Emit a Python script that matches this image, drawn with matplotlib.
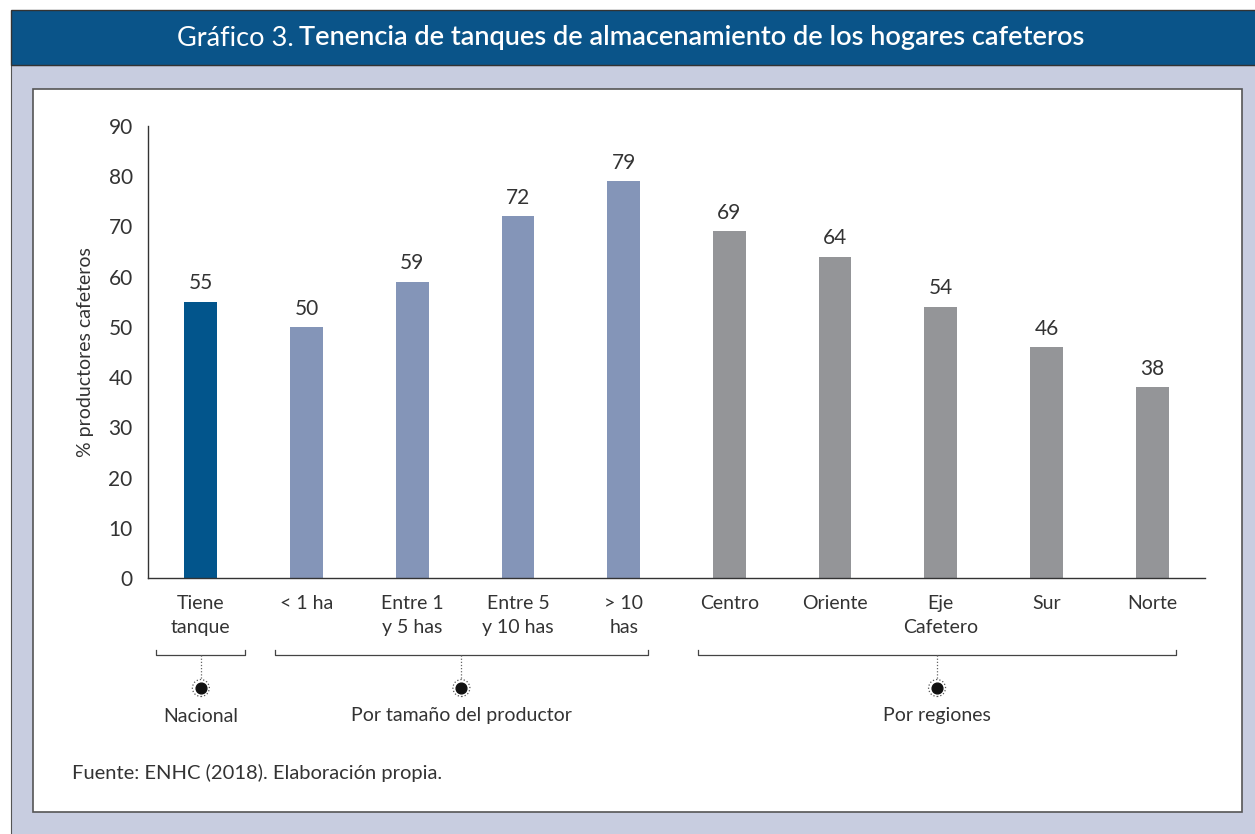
import matplotlib
matplotlib.use("Agg")
import matplotlib.pyplot as plt
from matplotlib.patches import Rectangle
import matplotlib.transforms as mtransforms

plt.rcParams['font.family'] = ['Lato', 'DejaVu Sans']

categories = ["Tiene\ntanque", "< 1 ha", "Entre 1\ny 5 has", "Entre 5\ny 10 has", "> 10\nhas",
              "Centro", "Oriente", "Eje\nCafetero", "Sur", "Norte"]
values = [55, 50, 59, 72, 79, 69, 64, 54, 46, 38]
groups = ["nac", "tam", "tam", "tam", "tam", "reg", "reg", "reg", "reg", "reg"]
group_names = {"nac": "Nacional", "tam": "Por tamaño del productor", "reg": "Por regiones"}
group_colors = {"nac": "#02558C", "tam": "#8495B8", "reg": "#949598"}
yticks = [0, 10, 20, 30, 40, 50, 60, 70, 80, 90]

W, H = 1255, 834
fig = plt.figure(figsize=(W / 100, H / 100), dpi=100)
fig.patch.set_facecolor("white")

def px_rect(x0, y0, x1, y1, **kw):
    r = Rectangle((x0 / W, 1 - y1 / H), (x1 - x0) / W, (y1 - y0) / H,
                  transform=fig.transFigure, zorder=-10, **kw)
    fig.patches.append(r)

# background frame
px_rect(11, 65, 1256, 835, facecolor="#C8CDE0", edgecolor="#555555", linewidth=0.8)
px_rect(11, 10, 1256, 65, facecolor="#0A5489", edgecolor="#333333", linewidth=1.0)
px_rect(33, 89, 1242, 812, facecolor="white", edgecolor="#555555", linewidth=1.2)

# title
fig.text(294 / W, 1 - 38 / H, "Gráfico 3.", ha="right", va="center", color="white",
         fontsize=19.5, fontweight="normal")
fig.text(299 / W, 1 - 38 / H, "Tenencia de tanques de almacenamiento de los hogares cafeteros",
         ha="left", va="center", color="white", fontsize=19.5, fontweight="semibold")

# axes
ax_left, ax_right, ax_top, ax_bottom = 148, 1205, 126, 578
ax = fig.add_axes([ax_left / W, 1 - ax_bottom / H, (ax_right - ax_left) / W, (ax_bottom - ax_top) / H])
ax.set_facecolor("none")
x = list(range(len(values)))
colors = [group_colors[g] for g in groups]
ax.bar(x, values, width=0.31, color=colors, zorder=2)
ax.set_xlim(-0.5, len(values) - 0.5)
ax.set_ylim(0, 90)
ax.set_yticks(yticks)
ax.set_yticklabels([str(t) for t in yticks], fontsize=15, color="#333333")
ax.set_xticks(x)
ax.set_xticklabels(categories, fontsize=14, color="#333333", linespacing=1.5)
ax.tick_params(axis="both", length=0)
ax.tick_params(axis="y", pad=11)
ax.tick_params(axis="x", pad=12)
for s in ["top", "right"]:
    ax.spines[s].set_visible(False)
for s in ["left", "bottom"]:
    ax.spines[s].set_color("#333333")
    ax.spines[s].set_linewidth(1.0)
ax.set_ylabel("% productores cafeteros", fontsize=14, color="#333333")
ax.yaxis.set_label_coords((94 - ax_left) / (ax_right - ax_left), 0.5)

for xi, v in zip(x, values):
    ax.annotate(str(v), (xi, v), xytext=(0, 6), textcoords="offset points",
                ha="center", va="bottom", fontsize=15, color="#333333")

# group brackets
trans = mtransforms.blended_transform_factory(ax.transData, ax.transAxes)
hgt = ax_bottom - ax_top
def ay(py):
    return (ax_bottom - py) / hgt

order = []
for g in groups:
    if g not in order:
        order.append(g)
for g in order:
    idx = [i for i, gg in enumerate(groups) if gg == g]
    if len(idx) == 1:
        x0, x1 = idx[0] - 0.42, idx[-1] + 0.42
    else:
        x0, x1 = idx[0] - 0.30, idx[-1] + 0.23
    xc = (x0 + x1) / 2
    ax.plot([x0, x0, x1, x1], [ay(650), ay(655), ay(655), ay(650)], transform=trans,
            color="#444444", lw=0.9, clip_on=False)
    ax.plot([xc, xc], [ay(655), ay(680)], transform=trans, color="#666666",
            lw=0.9, ls=(0, (1, 1.5)), clip_on=False)
    ax.scatter([xc], [ay(688)], s=150, facecolors="none", edgecolors="#555555",
               linewidths=0.9, linestyles=":", transform=trans, clip_on=False)
    ax.scatter([xc], [ay(688)], s=60, color="#111111", transform=trans, clip_on=False)
    ax.text(xc, ay(716), group_names[g], transform=trans, ha="center", va="center",
            fontsize=14, color="#333333")

fig.text(72 / W, 1 - 773 / H, "Fuente: ENHC (2018). Elaboración propia.", ha="left",
         va="center", fontsize=14.5, color="#333333")

fig.savefig("out.png", dpi=100)
